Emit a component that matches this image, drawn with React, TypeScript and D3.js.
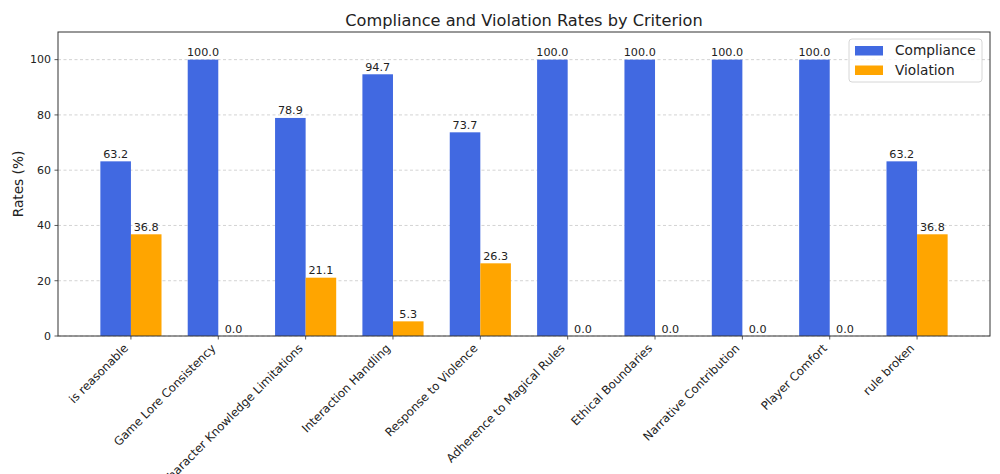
import React from "react";
import * as d3 from "d3";

const categories = [
  "is reasonable",
  "Game Lore Consistency",
  "Character Knowledge Limitations",
  "Interaction Handling",
  "Response to Violence",
  "Adherence to Magical Rules",
  "Ethical Boundaries",
  "Narrative Contribution",
  "Player Comfort",
  "rule broken",
];
const compliance = [63.2, 100.0, 78.9, 94.7, 73.7, 100.0, 100.0, 100.0, 100.0, 63.2];
const violation = [36.8, 0.0, 21.1, 5.3, 26.3, 0.0, 0.0, 0.0, 0.0, 36.8];
const yTicks = [0, 20, 40, 60, 80, 100];
const seriesNames = ["Compliance", "Violation"];
const seriesColors = ["#4169E1", "#FFA500"];

const W = 1000;
const H = 474;
const left = 58;
const right = 990;
const top = 32;
const bottom = 336;
const font = "'DejaVu Sans', sans-serif";
const barW = 0.35;

export default function App() {
  const x = d3.scaleLinear().domain([-0.835, categories.length - 1 + 0.835]).range([left, right]);
  const y = d3.scaleLinear().domain([0, 110]).range([bottom, top]);
  const series = [compliance, violation];

  return (
    <svg width={W} height={H} style={{ position: "absolute", left: 0, top: 0, background: "#fff" }} fontFamily={font}>
      <rect x={0} y={0} width={W} height={H} fill="#fff" />
      {yTicks.map((t) => (
        <line key={"g" + t} x1={left} x2={right} y1={y(t)} y2={y(t)} stroke="#b0b0b0" strokeOpacity={0.7} strokeWidth={0.8} strokeDasharray="3,2.5" />
      ))}
      {series.map((vals, si) =>
        vals.map((v, i) => {
          const x0 = x(i + (si === 0 ? -barW : 0));
          const x1 = x(i + (si === 0 ? 0 : barW));
          return (
            <g key={si + "-" + i}>
              <rect x={x0} y={y(v)} width={x1 - x0} height={y(0) - y(v)} fill={seriesColors[si]} />
              <text x={(x0 + x1) / 2} y={y(v) - 3.5} textAnchor="middle" fontSize={11.2} fill="#222">
                {v.toFixed(1)}
              </text>
            </g>
          );
        })
      )}
      <rect x={left} y={top} width={right - left} height={bottom - top} fill="none" stroke="#333" strokeWidth={1} />
      {yTicks.map((t) => (
        <g key={"t" + t}>
          <line x1={left - 3.5} x2={left} y1={y(t)} y2={y(t)} stroke="#333" strokeWidth={0.8} />
          <text x={left - 7} y={y(t)} dy="0.35em" textAnchor="end" fontSize={11} fill="#222">
            {t}
          </text>
        </g>
      ))}
      {categories.map((c, i) => (
        <g key={"c" + i}>
          <line x1={x(i)} x2={x(i)} y1={bottom} y2={bottom + 3.5} stroke="#333" strokeWidth={0.8} />
          <text transform={`translate(${x(i) - 2},${bottom + 13}) rotate(-45)`} textAnchor="end" fontSize={11.7} fill="#222">
            {c}
          </text>
        </g>
      ))}
      <text transform={`translate(23,${(top + bottom) / 2}) rotate(-90)`} textAnchor="middle" fontSize={13.7} fill="#222">
        Rates (%)
      </text>
      <text x={(left + right) / 2} y={25.5} textAnchor="middle" fontSize={16.2} fill="#222">
        Compliance and Violation Rates by Criterion
      </text>
      <g>
        <rect x={849} y={39} width={133} height={43} rx={3} fill="#fff" fillOpacity={0.8} stroke="#ccc" strokeWidth={0.8} />
        {seriesNames.map((n, i) => (
          <g key={n}>
            <rect x={855} y={46 + i * 19.5} width={28} height={9.5} fill={seriesColors[i]} />
            <text x={895} y={55 + i * 19.5} fontSize={13.7} fill="#222">
              {n}
            </text>
          </g>
        ))}
      </g>
    </svg>
  );
}
